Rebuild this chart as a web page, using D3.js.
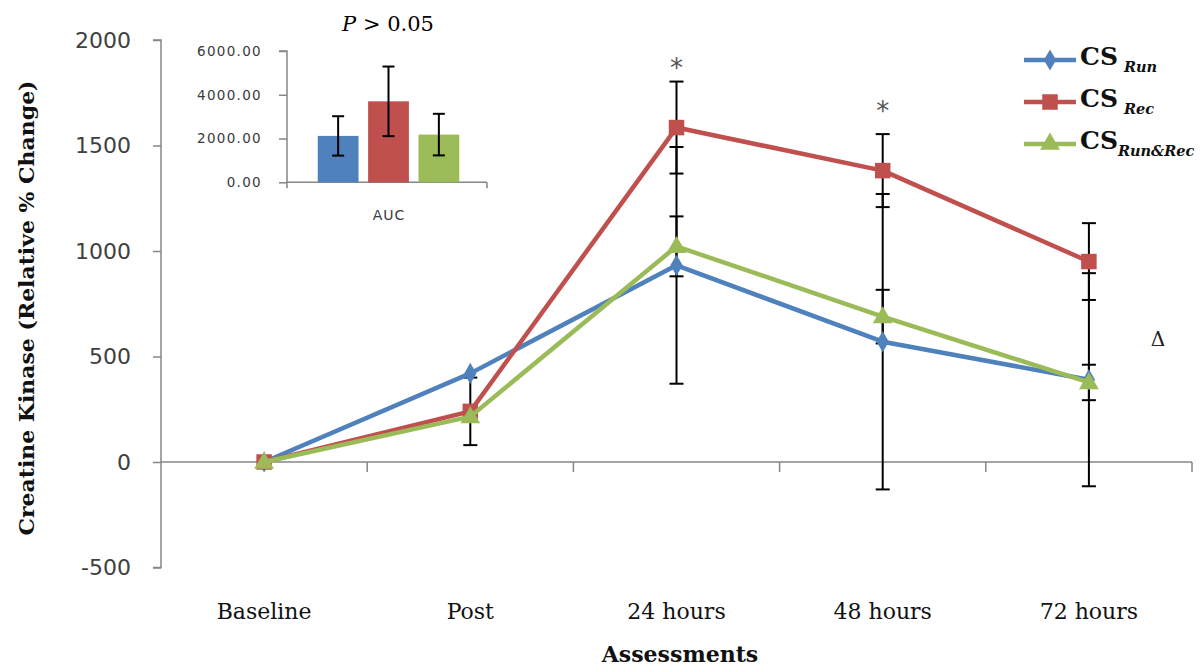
<!DOCTYPE html>
<html><head><meta charset="utf-8">
<script src="https://cdn.jsdelivr.net/npm/d3@7"></script>
<style>html,body{margin:0;padding:0;background:#fff;}svg{display:block;}</style>
</head><body>
<script>
// ---- data ----
const categories = ["Baseline", "Post", "24 hours", "48 hours", "72 hours"];
const seriesNames = ["CS Run", "CS Rec", "CS Run&Rec"];
const runVals = [0, 420, 932, 570, 390];
const runErr = [0, 0, 561, 700, 505];
const recVals = [0, 240, 1585, 1381, 950];
const recErr = [0, 160, 218, 173, 182];
const runRecVals = [0, 215, 1022, 689, 377];
const runRecErr = [0, 0, 142, 127, 84];
const yTicks = [-500, 0, 500, 1000, 1500, 2000];
const aucVals = [2120, 3700, 2180];
const aucErr = [900, 1590, 950];
const aucTicks = [0, 2000, 4000, 6000];
const starCats = ["24 hours", "48 hours"];
const starVals = [1900, 1695];

const colors = ["#4F81BD", "#C0504D", "#9BBB59"];
const series = [
  {name: "Run", vals: runVals, err: runErr, color: colors[0], shape: "diamond"},
  {name: "Rec", vals: recVals, err: recErr, color: colors[1], shape: "square"},
  {name: "Run&Rec", vals: runRecVals, err: runRecErr, color: colors[2], shape: "triangle"}
];

const W = 1204, H = 672;
const svg = d3.select("body").append("svg").attr("width", W).attr("height", H);
const axisColor = "#868686";

const x = d3.scaleBand().domain(categories).range([161, 1192]);
const y = d3.scaleLinear().domain([-500, 2000]).range([567.5, 40]);
const cx = c => x(c) + x.bandwidth() / 2;

// y axis
const gy = svg.append("g").attr("transform", "translate(161,0)")
  .call(d3.axisLeft(y).tickValues(yTicks).tickSize(8).tickPadding(22).tickFormat(d => String(d)));
gy.select(".domain").attr("stroke", axisColor).attr("stroke-width", 1.5).attr("d", `M-8,${y(2000)}H0V${y(-500)}H-8`);
gy.selectAll(".tick line").attr("stroke", axisColor).attr("stroke-width", 1.5);
gy.selectAll(".tick text").attr("font-family", "DejaVu Sans").attr("font-size", 22).attr("fill", "#404040");

// x axis at zero
const gx = svg.append("g").attr("transform", `translate(0,${y(0)})`)
  .call(d3.axisBottom(x).tickSize(0).tickFormat(""));
gx.select(".domain").attr("stroke", axisColor).attr("stroke-width", 1.5).attr("d", `M161,0H1192`);
const bounds = d3.range(categories.length + 1).map(i => 161 + i * x.bandwidth());
gx.selectAll(".bt").data(bounds.slice(1)).enter().append("line")
  .attr("x1", d => d).attr("x2", d => d).attr("y1", 0).attr("y2", 10)
  .attr("stroke", axisColor).attr("stroke-width", 1.5);

// category labels
svg.selectAll(".cat").data(categories).enter().append("text")
  .attr("x", d => cx(d)).attr("y", 619).attr("text-anchor", "middle")
  .attr("font-family", "DejaVu Serif").attr("font-size", 22).attr("fill", "#111")
  .text(d => d);

// axis titles
svg.append("text").attr("x", 680).attr("y", 662).attr("text-anchor", "middle")
  .attr("font-family", "DejaVu Serif").attr("font-weight", "bold").attr("font-size", 22).attr("fill", "#111")
  .text("Assessments");
svg.append("text").attr("transform", "translate(34,308) rotate(-90)").attr("text-anchor", "middle")
  .attr("font-family", "DejaVu Serif").attr("font-weight", "bold").attr("font-size", 21).attr("fill", "#111")
  .attr("textLength", 455).attr("lengthAdjust", "spacingAndGlyphs")
  .text("Creatine Kinase (Relative % Change)");

// error bars
series.forEach(s => {
  const g = svg.append("g");
  categories.forEach((c, i) => {
    if (!s.err[i]) return;
    const x0 = cx(c), yt = y(s.vals[i] + s.err[i]), yb = y(s.vals[i] - s.err[i]);
    g.append("line").attr("x1", x0).attr("x2", x0).attr("y1", yt).attr("y2", yb).attr("stroke", "#000").attr("stroke-width", 2);
    [yt, yb].forEach(yy => g.append("line").attr("x1", x0 - 7).attr("x2", x0 + 7).attr("y1", yy).attr("y2", yy).attr("stroke", "#000").attr("stroke-width", 2));
  });
});

// lines & markers
const line = d3.line().x((d, i) => cx(categories[i])).y(d => y(d));
const symbolFor = {diamond: d3.symbolDiamond, square: d3.symbolSquare, triangle: d3.symbolTriangle};
const sizeFor = {diamond: 130, square: 240, triangle: 170};
series.forEach(s => {
  svg.append("path").attr("d", line(s.vals)).attr("fill", "none").attr("stroke", s.color).attr("stroke-width", 4.5).attr("stroke-linejoin", "round");
  svg.selectAll(null).data(s.vals).enter().append("path")
    .attr("d", d3.symbol().type(symbolFor[s.shape]).size(sizeFor[s.shape]))
    .attr("transform", (d, i) => `translate(${cx(categories[i])},${y(d) + (s.shape === "triangle" ? 1 : 0)})`)
    .attr("fill", s.color);
});

// asterisks & delta
svg.selectAll(".star").data(starCats).enter().append("text")
  .attr("x", d => cx(d)).attr("y", (d, i) => y(starVals[i]) + 16).attr("text-anchor", "middle")
  .attr("font-family", "DejaVu Sans").attr("font-size", 26).attr("fill", "#555").text("*");
svg.append("text").attr("x", 1158).attr("y", 346).attr("text-anchor", "middle")
  .attr("font-family", "DejaVu Serif").attr("font-size", 20).attr("fill", "#222").text("Δ");

// legend
const legY = [60, 102, 144];
const legBase = [65, 107, 149];
series.forEach((s, i) => {
  svg.append("line").attr("x1", 1024).attr("x2", 1076).attr("y1", legY[i]).attr("y2", legY[i]).attr("stroke", s.color).attr("stroke-width", 4.5);
  svg.append("path").attr("d", d3.symbol().type(symbolFor[s.shape]).size(sizeFor[s.shape]))
    .attr("transform", `translate(1050,${legY[i]})`).attr("fill", s.color);
  const t = svg.append("text").attr("x", 1080).attr("y", legBase[i]).attr("font-family", "DejaVu Serif").attr("fill", "#111");
  t.append("tspan").attr("font-weight", "bold").attr("font-size", 25).text("CS");
  t.append("tspan").attr("dx", i === 2 ? 0 : 6).attr("dy", 7).attr("font-style", "italic").attr("font-weight", "bold").attr("font-size", 14.5).text(s.name);
});

// ---- inset AUC chart ----
const ix = d3.scaleBand().domain(seriesNames).range([312.7, 464.3]).paddingInner(0.19).paddingOuter(0.1);
const iy = d3.scaleLinear().domain([0, 6000]).range([182.3, 51]);
const giy = svg.append("g").attr("transform", "translate(287,0)")
  .call(d3.axisLeft(iy).tickValues(aucTicks).tickSize(8).tickPadding(17).tickFormat(d3.format(".2f")));
giy.select(".domain").attr("stroke", axisColor).attr("stroke-width", 1.5).attr("d", `M-8,${iy(6000)}H0V${iy(0) + 6}`);
giy.selectAll(".tick line").attr("stroke", axisColor).attr("stroke-width", 1.5);
giy.selectAll(".tick text").attr("font-family", "DejaVu Sans").attr("font-size", 13.5).attr("letter-spacing", 1.3).attr("fill", "#3a3a3a");
svg.append("line").attr("x1", 287).attr("x2", 487).attr("y1", iy(0)).attr("y2", iy(0)).attr("stroke", axisColor).attr("stroke-width", 1.5);
svg.append("line").attr("x1", 487).attr("x2", 487).attr("y1", iy(0)).attr("y2", iy(0) + 6).attr("stroke", axisColor).attr("stroke-width", 1.5);
svg.selectAll(".aucbar").data(aucVals).enter().append("rect")
  .attr("x", (d, i) => ix(seriesNames[i])).attr("width", ix.bandwidth())
  .attr("y", d => iy(d)).attr("height", d => iy(0) - iy(d))
  .attr("fill", (d, i) => colors[i]);
aucVals.forEach((v, i) => {
  const x0 = ix(seriesNames[i]) + ix.bandwidth() / 2, yt = iy(v + aucErr[i]), yb = iy(v - aucErr[i]);
  svg.append("line").attr("x1", x0).attr("x2", x0).attr("y1", yt).attr("y2", yb).attr("stroke", "#000").attr("stroke-width", 2);
  [yt, yb].forEach(yy => svg.append("line").attr("x1", x0 - 6).attr("x2", x0 + 6).attr("y1", yy).attr("y2", yy).attr("stroke", "#000").attr("stroke-width", 2));
});
svg.append("text").attr("x", 389).attr("y", 220).attr("text-anchor", "middle")
  .attr("font-family", "DejaVu Sans").attr("font-size", 14).attr("letter-spacing", 1).attr("fill", "#3a3a3a").text("AUC");
const pt = svg.append("text").attr("x", 388).attr("y", 31).attr("text-anchor", "middle")
  .attr("font-family", "DejaVu Serif").attr("font-size", 21).attr("fill", "#000");
pt.append("tspan").attr("font-style", "italic").text("P");
pt.append("tspan").text(" > 0.05");
</script>
</body></html>
